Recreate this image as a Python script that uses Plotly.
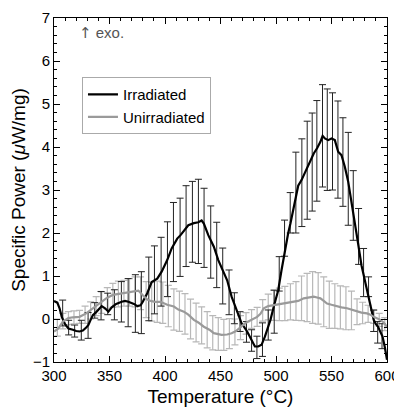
import plotly.graph_objects as go

# Irradiated line (temperature in °C, specific power in µW/mg)
irr_T = [300, 303, 305, 307, 310, 313, 317, 320, 323, 326, 329, 331, 333, 335, 338, 340, 343, 346, 349, 352,
         356, 361, 364, 367, 372, 375, 378, 380, 384, 388, 393, 397, 402, 406, 411, 414, 417, 421, 426, 430,
         433, 435, 439, 444, 448, 451, 456, 460, 465, 469, 474, 478, 481, 484, 487, 490, 495, 498, 502, 505,
         508, 511, 513, 517, 520, 523, 526, 528, 531, 534, 537, 540, 542, 544, 547, 550, 553, 556, 559, 562,
         565, 568, 571, 574, 577, 580, 583, 585, 588, 590, 592, 594, 596, 598, 600]
irr_P = [0.42, 0.38, 0.25, 0.05, -0.12, -0.22, -0.25, -0.28, -0.29, -0.27, -0.2, -0.14, -0.02, 0.09, 0.16, 0.21, 0.3, 0.25, 0.17, 0.27,
         0.35, 0.4, 0.42, 0.4, 0.35, 0.3, 0.32, 0.4, 0.6, 0.86, 0.94, 1.1, 1.37, 1.64, 1.87, 1.95, 2.06, 2.18, 2.23, 2.25,
         2.29, 2.22, 1.95, 1.68, 1.37, 1.2, 0.9, 0.52, 0.17, -0.1, -0.29, -0.49, -0.64, -0.64, -0.6, -0.41, -0.02, 0.29, 0.67, 1.14,
         1.6, 2.0, 2.22, 2.7, 3.1, 3.23, 3.4, 3.5, 3.68, 3.85, 3.97, 4.12, 4.26, 4.2, 4.16, 4.2, 4.16, 3.89, 3.81, 3.54,
         3.2, 2.75, 2.22, 1.75, 1.25, 0.9, 0.5, 0.28, -0.02, -0.12, -0.18, -0.3, -0.41, -0.65, -0.95]

# Irradiated error bars (position, centre, half-width)
irr_eb_T = [307.8, 313.2, 318.6, 324.6, 330.7, 336.7, 342.4, 348.4, 354.4, 360.7, 366.8, 373.3, 378.7, 385.4,
            390.5, 396.5, 402.2, 407.6, 413.6, 419.0, 424.7, 430.1, 435.2, 441.2, 446.6, 452.0, 457.7, 462.5,
            467.6, 473.4, 478.0, 482.8, 487.8, 493.0, 498.4, 502.9, 507.7, 512.8, 517.9, 523.3, 528.1, 532.6,
            536.8, 541.9, 546.2, 550.9, 555.8, 560.3, 565.1, 569.6, 574.4, 578.9, 583.4, 588.0, 591.6, 595.5]
irr_eb_P = [0.14, -0.2, -0.28, -0.26, -0.15, 0.2, 0.31, 0.35, 0.33, 0.4, 0.38, 0.36, 0.38, 0.7,
            0.91, 1.1, 1.39, 1.79, 1.9, 2.16, 2.26, 2.27, 2.12, 1.79, 1.49, 1.0, 0.62, 0.25,
            -0.06, -0.3, -0.5, -0.66, -0.48, -0.14, 0.17, 1.05, 1.88, 2.47, 2.94, 3.17, 3.46, 3.65,
            3.91, 4.26, 4.17, 4.13, 3.94, 3.65, 3.26, 2.64, 1.92, 1.08, 0.75, -0.04, -0.31, -0.4]
irr_eb_E = [0.3, 0.17, 0.14, 0.23, 0.3, 0.18, 0.33, 0.25, 0.35, 0.47, 0.56, 0.67, 0.72, 0.74,
            0.79, 0.8, 0.87, 0.92, 0.91, 0.94, 0.94, 0.98, 0.92, 0.84, 0.76, 0.65, 0.52, 0.36,
            0.23, 0.24, 0.25, 0.26, 0.39, 0.35, 0.5, 0.4, 0.42, 0.47, 0.94, 1.02, 1.14, 1.14,
            1.17, 1.19, 1.18, 1.13, 1.13, 1.03, 1.08, 0.81, 0.65, 0.56, 0.23, 0.25, 0.25, 0.29]

# Unirradiated line
unirr_T = [300, 304, 308, 313, 317, 323, 329, 335, 341, 347, 353, 360, 366, 372, 376, 380, 384, 387, 391, 396,
           402, 408, 412, 417, 421, 426, 430, 435, 440, 444, 448, 451, 456, 460, 464, 468, 472, 475, 479, 483,
           486, 489, 493, 498, 502, 507, 511, 516, 520, 525, 529, 534, 537, 540, 543, 546, 550, 555, 559, 564,
           568, 573, 577, 582, 585, 588, 591, 594, 597, 600]
unirr_P = [-0.29, -0.22, -0.06, 0.02, 0.04, 0.05, 0.13, 0.25, 0.36, 0.48, 0.56, 0.59, 0.61, 0.63, 0.66, 0.55, 0.45, 0.42, 0.4, 0.4,
           0.33, 0.29, 0.22, 0.17, 0.1, -0.02, -0.08, -0.18, -0.25, -0.33, -0.35, -0.37, -0.36, -0.33, -0.28, -0.18, -0.1, -0.06, 0.0, 0.05,
           0.12, 0.25, 0.3, 0.32, 0.34, 0.36, 0.38, 0.4, 0.42, 0.48, 0.5, 0.52, 0.5, 0.48, 0.42, 0.36, 0.33, 0.29, 0.27, 0.25,
           0.22, 0.17, 0.15, 0.13, 0.1, 0.05, 0.02, -0.02, -0.08, -0.18]

# Unirradiated error bars
unirr_eb_T = [303, 308, 313, 318, 323, 328, 333, 338, 343, 348, 353, 358, 363, 368, 373, 378, 383, 388, 393, 398,
              403, 408, 413, 418, 423, 428, 433, 438, 443, 448, 453, 458, 463, 468, 473, 478, 483, 488, 493, 498,
              503, 508, 513, 518, 523, 528, 533, 538, 543, 548, 553, 558, 563, 568, 573, 578, 583, 588, 593, 598]
unirr_eb_P = [-0.2, -0.05, 0.02, 0.04, 0.05, 0.1, 0.2, 0.3, 0.38, 0.48, 0.55, 0.58, 0.6, 0.62, 0.63, 0.6, 0.45, 0.4, 0.4, 0.38,
              0.3, 0.22, 0.18, 0.12, 0.0, -0.08, -0.15, -0.25, -0.32, -0.35, -0.37, -0.34, -0.3, -0.2, -0.1, 0.0, 0.05, 0.2, 0.28, 0.32,
              0.34, 0.36, 0.4, 0.42, 0.48, 0.5, 0.5, 0.48, 0.4, 0.33, 0.3, 0.27, 0.25, 0.2, 0.17, 0.14, 0.12, 0.05, -0.02, -0.12]
unirr_eb_E = [0.2, 0.18, 0.15, 0.15, 0.15, 0.2, 0.2, 0.22, 0.25, 0.25, 0.28, 0.3, 0.3, 0.32, 0.35, 0.38, 0.42, 0.45, 0.48, 0.48,
              0.48, 0.48, 0.47, 0.47, 0.46, 0.45, 0.43, 0.42, 0.4, 0.38, 0.36, 0.35, 0.3, 0.28, 0.25, 0.22, 0.22, 0.25, 0.3, 0.35,
              0.38, 0.4, 0.42, 0.45, 0.52, 0.56, 0.6, 0.6, 0.58, 0.55, 0.52, 0.5, 0.5, 0.45, 0.3, 0.25, 0.2, 0.15, 0.15, 0.15]

FONT = "Liberation Sans, Arial, sans-serif"
GRAY = "#9a9a9a"
GRAY_EB = "#b8b8b8"

fig = go.Figure()

# error bars (drawn first, under lines)
fig.add_trace(go.Scatter(x=unirr_eb_T, y=unirr_eb_P, mode="markers", marker=dict(size=0.1, color=GRAY_EB, opacity=0),
                         error_y=dict(type="data", array=unirr_eb_E, color=GRAY_EB, thickness=1.2, width=3.5),
                         showlegend=False, hoverinfo="skip"))
fig.add_trace(go.Scatter(x=irr_eb_T, y=irr_eb_P, mode="markers", marker=dict(size=0.1, color="black", opacity=0),
                         error_y=dict(type="data", array=irr_eb_E, color="#222222", thickness=1, width=3.5),
                         showlegend=False, hoverinfo="skip"))

fig.add_trace(go.Scatter(x=irr_T, y=irr_P, mode="lines", name="Irradiated",
                         line=dict(color="black", width=2.2)))
fig.add_trace(go.Scatter(x=unirr_T, y=unirr_P, mode="lines", name="Unirradiated",
                         line=dict(color=GRAY, width=2.2)))

fig.add_annotation(x=0.068, y=0.955, xref="paper", yref="paper",
                   text="<span style='font-family:DejaVu Sans'>↑</span> exo.", showarrow=False,
                   xanchor="left", yanchor="middle", font=dict(family=FONT, size=15, color="#555555"))

axis_common = dict(showline=True, linecolor="black", linewidth=1, mirror="ticks", ticks="inside",
                   tickcolor="black", ticklen=6, tickwidth=1, showgrid=False, zeroline=False, automargin=False,
                   tickfont=dict(family=FONT, size=15, color="black"))

fig.update_xaxes(range=[300, 600], dtick=50, tick0=300,
                 minor=dict(ticks="inside", dtick=10, ticklen=3, tickcolor="black", showgrid=False),
                 title=dict(text="Temperature (°C)", font=dict(family=FONT, size=19, color="black"), standoff=6),
                 **axis_common)
fig.update_yaxes(range=[-1, 7], dtick=1, tick0=0,
                 minor=dict(ticks="inside", dtick=0.2, ticklen=3, tickcolor="black", showgrid=False),
                 title=dict(text="Specific Power (<i>μ</i>W/mg)", font=dict(family=FONT, size=19, color="black"), standoff=4),
                 **axis_common)

# page body has an 8px margin, so the figure is 8px smaller and margins shifted
fig.update_layout(
    width=394, height=407,
    margin=dict(l=46, r=15, t=10, b=53),
    paper_bgcolor="white", plot_bgcolor="white",
    font=dict(family=FONT, color="black"),
    legend=dict(x=0.084, y=0.828, xanchor="left", yanchor="top", bgcolor="white",
                bordercolor="#aaaaaa", borderwidth=1, font=dict(family=FONT, size=15, color="black"),
                tracegroupgap=0, itemwidth=30),
)

fig.write_html("out.html")
